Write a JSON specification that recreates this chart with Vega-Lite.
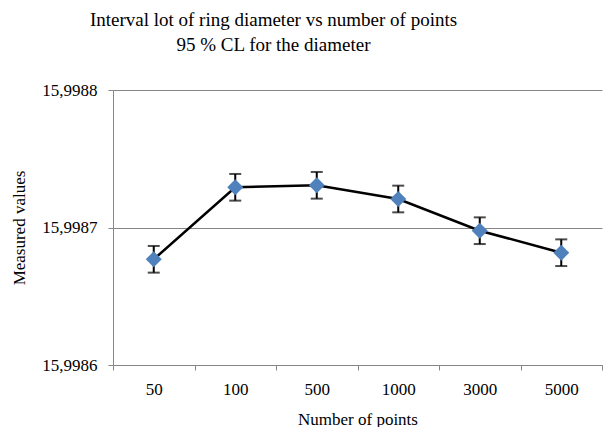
{
  "$schema": "https://vega.github.io/schema/vega-lite/v6.json",
  "width": 489,
  "height": 275,
  "autosize": "none",
  "padding": {"left": 113, "top": 90, "right": 11, "bottom": 62},
  "background": "white",
  "title": {
    "text": ["Interval lot of ring diameter vs number of points", "95 % CL for the diameter"],
    "font": "Liberation Serif, Times New Roman, serif",
    "fontSize": 19,
    "fontWeight": "normal",
    "color": "#000000",
    "anchor": "middle",
    "frame": "group",
    "dx": -84,
    "offset": 26,
    "lineHeight": 25
  },
  "config": {
    "view": {"stroke": null},
    "font": "Liberation Serif, Times New Roman, serif"
  },
  "data": {
    "values": [
      {"points": "50", "value": 15.99867687, "lo": 15.99866717, "hi": 15.99868657},
      {"points": "100", "value": 15.99872924, "lo": 15.99871954, "hi": 15.99873894},
      {"points": "500", "value": 15.99873069, "lo": 15.99872099, "hi": 15.99874039},
      {"points": "1000", "value": 15.99872073, "lo": 15.99871103, "hi": 15.99873043},
      {"points": "3000", "value": 15.99869767, "lo": 15.99868797, "hi": 15.99870737},
      {"points": "5000", "value": 15.99868167, "lo": 15.99867197, "hi": 15.99869137}
    ]
  },
  "encoding": {
    "x": {
      "field": "points",
      "type": "ordinal",
      "sort": ["50", "100", "500", "1000", "3000", "5000"],
      "scale": {"paddingInner": 0, "paddingOuter": 0},
      "axis": {
        "title": "Number of points",
        "labelAngle": 0,
        "tickBand": "extent",
        "domainColor": "#868686",
        "tickColor": "#868686",
        "tickSize": 5,
        "labelPadding": 11,
        "labelFont": "Liberation Serif, Times New Roman, serif",
        "labelFontSize": 17,
        "labelColor": "#000000",
        "titleFont": "Liberation Serif, Times New Roman, serif",
        "titleFontSize": 17,
        "titleFontWeight": "normal",
        "titleColor": "#000000",
        "titlePadding": 14,
        "grid": false
      }
    }
  },
  "layer": [
    {
      "mark": {"type": "line", "color": "#000000", "strokeWidth": 2.5},
      "encoding": {
        "y": {
          "field": "value",
          "type": "quantitative",
          "scale": {"domain": [15.9986, 15.9988], "zero": false, "nice": false},
          "axis": {
            "title": "Measured values",
            "values": [15.9986, 15.9987, 15.9988],
            "labelExpr": "replace(format(datum.value, '.4f'), '.', ',')",
            "grid": true,
            "gridColor": "#868686",
            "gridWidth": 1,
            "domainColor": "#868686",
            "tickColor": "#868686",
            "tickSize": 5,
            "labelPadding": 11,
            "labelFont": "Liberation Serif, Times New Roman, serif",
            "labelFontSize": 17,
            "labelColor": "#000000",
            "titleFont": "Liberation Serif, Times New Roman, serif",
            "titleFontSize": 17,
            "titleFontWeight": "normal",
            "titleColor": "#000000",
            "titlePadding": 13
          }
        }
      }
    },
    {
      "mark": {
        "type": "errorbar",
        "color": "#000000",
        "rule": {"strokeWidth": 2},
        "ticks": {"size": 12, "thickness": 2, "color": "#000000"}
      },
      "encoding": {
        "y": {"field": "lo", "type": "quantitative", "title": "Measured values"},
        "y2": {"field": "hi"}
      }
    },
    {
      "mark": {"type": "point", "shape": "diamond", "filled": true, "color": "#4F81BD", "size": 256, "opacity": 1},
      "encoding": {
        "y": {"field": "value", "type": "quantitative"}
      }
    }
  ]
}
